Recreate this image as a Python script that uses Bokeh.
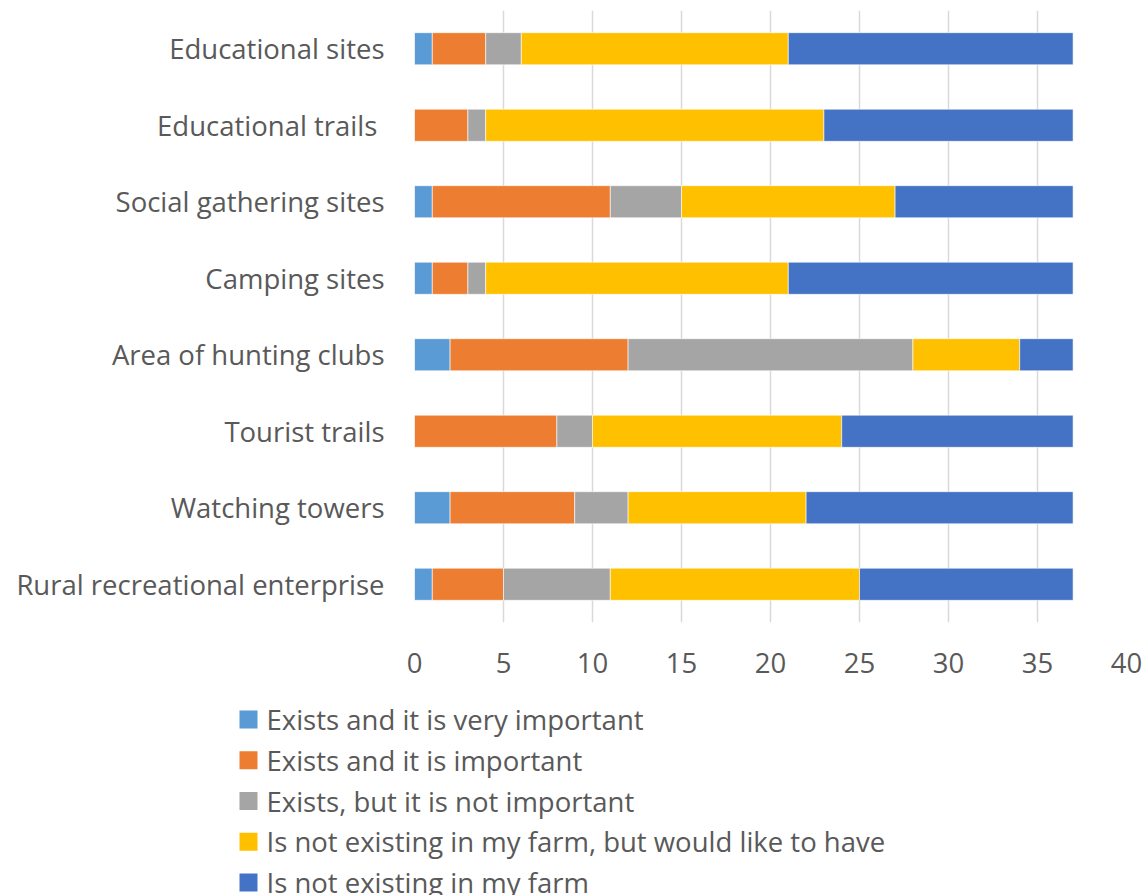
from bokeh.plotting import figure
from bokeh.models import ColumnDataSource, FactorRange, Range1d, FixedTicker
from bokeh.core.properties import value
from bokeh.layouts import column
from bokeh.embed import file_html
from bokeh.resources import INLINE

categories = ["Educational sites", "Educational trails ", "Social gathering sites", "Camping sites",
              "Area of hunting clubs", "Tourist trails", "Watching towers", "Rural recreational enterprise"]
very_important = [1, 0, 1, 1, 2, 0, 2, 1]
important = [3, 3, 10, 2, 10, 8, 7, 4]
not_important = [2, 1, 4, 1, 16, 2, 3, 6]
would_like = [15, 19, 12, 17, 6, 14, 10, 14]
not_existing = [16, 14, 10, 16, 3, 13, 15, 12]

series_names = ["Exists and it is very important", "Exists and it is important",
                "Exists, but it is not important", "Is not existing in my farm, but would like to have",
                "Is not existing in my farm"]
colors = ["#5B9BD5", "#ED7D31", "#A5A5A5", "#FFC000", "#4472C4"]
keys = ["s0", "s1", "s2", "s3", "s4"]
x_ticks = [0, 5, 10, 15, 20, 25, 30, 35, 40]

source = ColumnDataSource(dict(cat=categories, s0=very_important, s1=important, s2=not_important,
                               s3=would_like, s4=not_existing))

FONT = "Open Sans"
TXT = "#595959"
FS = "27.5px"

p = figure(y_range=FactorRange(*list(reversed(categories)), range_padding=0),
           x_range=Range1d(0, 40), width=1145, height=700,
           output_backend="svg", toolbar_location=None,
           min_border_left=414, min_border_top=10, min_border_right=19, min_border_bottom=78)
p.frame_align = False

p.hbar_stack(keys, y="cat", height=0.42, color=colors, source=source,
             line_color="white", line_width=0.6)

p.outline_line_color = None
p.ygrid.grid_line_color = None
p.xgrid.grid_line_color = "#D9D9D9"
p.xgrid.grid_line_width = 1.5
p.xaxis.ticker = FixedTicker(ticks=x_ticks)
p.xaxis.axis_line_color = None
p.xaxis.major_tick_line_color = None
p.xaxis.minor_tick_line_color = None
p.xaxis.major_tick_out = 0
p.xaxis.major_label_standoff = 30
p.yaxis.axis_line_color = None
p.yaxis.major_tick_line_color = None
p.yaxis.major_tick_out = 0
p.yaxis.major_label_standoff = 30
for ax in (p.xaxis, p.yaxis):
    ax.major_label_text_font = FONT
    ax.major_label_text_font_size = FS
    ax.major_label_text_color = TXT

# legend panel below the chart (pixel-like coordinates, y downward)
LEG_H = 195
p2 = figure(width=1145, height=LEG_H, x_range=Range1d(0, 1145), y_range=Range1d(LEG_H, 0),
            x_axis_type=None, y_axis_type=None, output_backend="svg", toolbar_location=None,
            min_border=0)
p2.frame_align = False
p2.outline_line_color = None
p2.grid.grid_line_color = None
row_y = [19 + 40.75 * i for i in range(len(series_names))]
leg_src = ColumnDataSource(dict(y=row_y, name=series_names, color=colors,
                                sx=[248] * len(series_names), tx=[266] * len(series_names)))
p2.rect(x="sx", y="y", width=18, height=18, fill_color="color", line_color=None, source=leg_src)
p2.text(x="tx", y="y", text="name", source=leg_src, text_font=value(FONT),
        text_font_size=FS, text_color=TXT, text_baseline="middle", text_align="left")

layout = column(p, p2, spacing=0)
open("out.html", "w").write(file_html(layout, INLINE))
